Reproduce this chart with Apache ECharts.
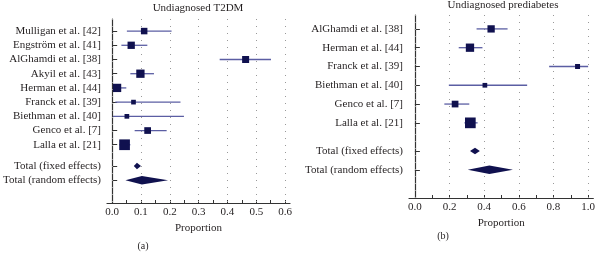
<!DOCTYPE html>
<html>
<head>
<meta charset="utf-8">
<script src="https://cdn.jsdelivr.net/npm/echarts@6/dist/echarts.min.js"></script>
<style>
html, body { margin: 0; padding: 0; background: #fff; }
#chart { width: 598px; height: 253px; }
</style>
</head>
<body>
<div id="chart"></div>
<script>
// panel (a): undiagnosed T2DM
var studiesA = ['Mulligan et al. [42]', 'Engström et al. [41]', 'AlGhamdi et al. [38]', 'Akyil et al. [43]',
    'Herman et al. [44]', 'Franck et al. [39]', 'Biethman et al. [40]', 'Genco et al. [7]', 'Lalla et al. [21]'];
var propA = [0.111, 0.066, 0.463, 0.098, 0.017, 0.074, 0.051, 0.123, 0.043];
var lowA = [0.051, 0.032, 0.373, 0.063, 0.003, 0.011, 0.003, 0.078, 0.025];
var highA = [0.206, 0.122, 0.551, 0.145, 0.049, 0.237, 0.249, 0.189, 0.063];
var weightA = [6.5, 7.3, 7, 8.3, 8.3, 4.7, 4.7, 6.7, 10.7];
var fixedA = [0.086, 0.075, 0.100];   // [estimate, low, high]
var randomA = [0.103, 0.046, 0.194];
var ticksA = [0, 0.1, 0.2, 0.3, 0.4, 0.5, 0.6];

// panel (b): undiagnosed prediabetes
var studiesB = ['AlGhamdi et al. [38]', 'Herman et al. [44]', 'Franck et al. [39]', 'Biethman et al. [40]',
    'Genco et al. [7]', 'Lalla et al. [21]'];
var propB = [0.44, 0.318, 0.939, 0.404, 0.232, 0.32];
var lowB = [0.356, 0.253, 0.775, 0.196, 0.17, 0.286];
var highB = [0.535, 0.39, 1.0, 0.648, 0.314, 0.362];
var weightB = [7.3, 8.3, 5, 4.7, 6.7, 10.7];
var fixedB = [0.347, 0.318, 0.375];
var randomB = [0.43, 0.305, 0.566];
var ticksB = [0, 0.2, 0.4, 0.6, 0.8, 1.0];

var navy = '#10114f';
var ciColor = '#5b5ea3';
var textColor = '#231f20';
var font = '"Liberation Serif", "DejaVu Serif", serif';

function rowLabels(studies) {
    var labels = studies.slice();
    labels.push('Total (fixed effects)', 'Total (random effects)');
    return labels;
}
// studies on rows 1..n, totals after a gap of half a row
function rowPos(n) {
    var pos = [];
    for (var i = 0; i < n; i++) pos.push(i + 1);
    pos.push(n + 1.5, n + 2.5);
    return pos;
}

function studyData(prop, low, high, weight) {
    return prop.map(function (p, i) { return [low[i], high[i], p, i + 1, weight[i]]; });
}
function totalData(n, fixed, random) {
    return [
        [fixed[1], fixed[2], fixed[0], n + 1.5, 6.5],
        [random[1], random[2], random[0], n + 2.5, 8.5]
    ];
}

function renderStudy(params, api) {
    var y = api.value(3);
    var lo = api.coord([api.value(0), y]);
    var hi = api.coord([api.value(1), y]);
    var c = api.coord([api.value(2), y]);
    var s = api.value(4);
    return {
        type: 'group',
        children: [
            { type: 'line', shape: { x1: lo[0], y1: lo[1], x2: hi[0], y2: hi[1] }, style: { stroke: ciColor, lineWidth: 1.3 } },
            { type: 'rect', shape: { x: c[0] - s / 2, y: c[1] - s / 2, width: s, height: s }, style: { fill: navy } }
        ]
    };
}
function renderDiamond(params, api) {
    var y = api.value(3);
    var lo = api.coord([api.value(0), y]);
    var hi = api.coord([api.value(1), y]);
    var c = api.coord([api.value(2), y]);
    var h = api.value(4) / 2;
    return {
        type: 'polygon',
        shape: { points: [[lo[0], c[1]], [c[0], c[1] - h], [hi[0], c[1]], [c[0], c[1] + h]] },
        style: { fill: navy }
    };
}

function xAxisFor(idx, min, max, minorTicks, labelTicks) {
    return {
        type: 'value', gridIndex: idx, min: min, max: max,
        name: 'Proportion', nameLocation: 'middle', nameGap: 17,
        nameTextStyle: { fontFamily: font, fontSize: 11, color: textColor },
        axisLine: { lineStyle: { color: '#333', width: 1.2 } },
        axisTick: { inside: true, length: 3, customValues: minorTicks, lineStyle: { color: '#333' } },
        axisLabel: {
            customValues: labelTicks, margin: 4,
            fontFamily: font, fontSize: 11, color: textColor,
            formatter: function (v) { return v.toFixed(1); }
        },
        splitLine: { show: false }
    };
}
function yAxisFor(idx, min, max, studies) {
    var labels = rowLabels(studies);
    var pos = rowPos(studies.length);
    return {
        type: 'value', gridIndex: idx, inverse: true, min: min, max: max,
        axisLine: { show: true, lineStyle: { color: '#333', width: 1.2 } },
        axisTick: { inside: true, length: 5, customValues: pos, lineStyle: { color: '#333' } },
        axisLabel: {
            customValues: pos, margin: 6,
            fontFamily: font, fontSize: 11, color: textColor,
            formatter: function (v) {
                var k = pos.indexOf(v);
                return k >= 0 ? labels[k] : '';
            }
        },
        splitLine: { show: false }
    };
}
// dotted vertical reference lines, kept behind the marks
function gridSeries(idx, ticks) {
    return {
        type: 'line', xAxisIndex: idx, yAxisIndex: idx, data: [], z: 1,
        markLine: {
            silent: true, symbol: 'none', animation: false, z: 1,
            label: { show: false },
            lineStyle: { type: [1, 6], color: '#999', width: 1 },
            data: ticks.map(function (t) { return { xAxis: t }; })
        }
    };
}

function caption(text, x, y, size) {
    return {
        text: text, left: x, top: y, textAlign: 'center', padding: 0,
        textStyle: { fontFamily: font, fontSize: size, fontWeight: 'normal', color: textColor }
    };
}

var chart = echarts.init(document.getElementById('chart'));
chart.setOption({
    animation: false,
    backgroundColor: '#fff',
    title: [
        caption('Undiagnosed T2DM', 198, 3, 11),
        caption('Undiagnosed prediabetes', 503, 0, 11),
        caption('(a)', 143, 241, 10),
        caption('(b)', 443, 231, 10)
    ],
    grid: [
        { left: 105, right: 308, top: 19, bottom: 50 },
        { left: 409, right: 2, top: 15, bottom: 55 }
    ],
    xAxis: [
        xAxisFor(0, -0.018, 0.617, [0, 0.05, 0.1, 0.15, 0.2, 0.25, 0.3, 0.35, 0.4, 0.45, 0.5, 0.55, 0.6], ticksA),
        xAxisFor(1, -0.034, 1.03, [0, 0.1, 0.2, 0.3, 0.4, 0.5, 0.6, 0.7, 0.8, 0.9, 1.0], ticksB)
    ],
    yAxis: [
        yAxisFor(0, 0.15, 13.1, studiesA),
        yAxisFor(1, 0.26, 10, studiesB)
    ],
    series: [
        gridSeries(0, ticksA),
        gridSeries(1, ticksB),
        { type: 'custom', xAxisIndex: 0, yAxisIndex: 0, renderItem: renderStudy,
          encode: { x: [0, 1, 2], y: 3 }, data: studyData(propA, lowA, highA, weightA), z: 3 },
        { type: 'custom', xAxisIndex: 0, yAxisIndex: 0, renderItem: renderDiamond,
          encode: { x: [0, 1, 2], y: 3 }, data: totalData(studiesA.length, fixedA, randomA), z: 3 },
        { type: 'custom', xAxisIndex: 1, yAxisIndex: 1, renderItem: renderStudy,
          encode: { x: [0, 1, 2], y: 3 }, data: studyData(propB, lowB, highB, weightB), z: 3 },
        { type: 'custom', xAxisIndex: 1, yAxisIndex: 1, renderItem: renderDiamond,
          encode: { x: [0, 1, 2], y: 3 }, data: totalData(studiesB.length, fixedB, randomB), z: 3 }
    ]
});
</script>
</body>
</html>
